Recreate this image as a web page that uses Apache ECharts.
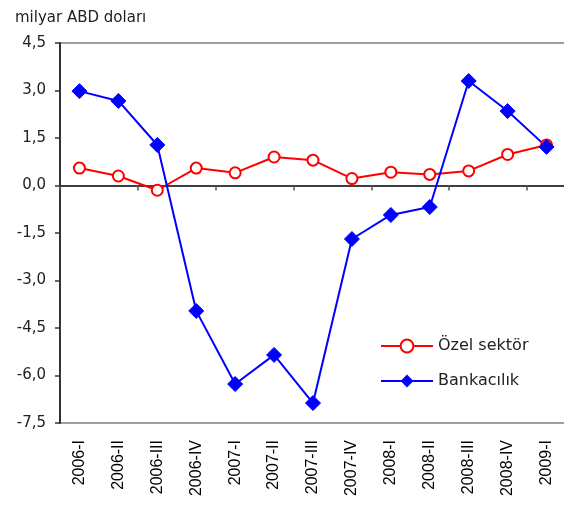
<!DOCTYPE html>
<html><head><meta charset="utf-8">
<script src="https://cdn.jsdelivr.net/npm/echarts@6/dist/echarts.min.js"></script>
<style>html,body{margin:0;padding:0;background:#fff;}#c{width:564px;height:505px;}</style>
</head><body><div id="c"></div>
<script>
var categories = ['2006-I','2006-II','2006-III','2006-IV','2007-I','2007-II','2007-III','2007-IV','2008-I','2008-II','2008-III','2008-IV','2009-I'];
var ozelSektor = [0.55, 0.3, -0.15, 0.55, 0.4, 0.9, 0.8, 0.22, 0.42, 0.35, 0.46, 0.98, 1.28];
var bankacilik = [2.98, 2.67, 1.28, -3.96, -6.27, -5.35, -6.87, -1.69, -0.93, -0.68, 3.3, 2.35, 1.22];
var seriesNames = ['Özel sektör', 'Bankacılık'];
var unitLabel = 'milyar ABD doları';

var chart = echarts.init(document.getElementById('c'), null, {renderer: 'canvas'});
var font = 'DejaVu Sans';
chart.setOption({
  animation: false,
  backgroundColor: '#fff',
  title: {text: unitLabel, left: 10, top: 6, textStyle: {fontFamily: font, fontSize: 15, fontWeight: 'normal', color: '#222'}},
  grid: {left: 60, top: 43, right: -2, bottom: 82, outerBoundsMode: 'none', containLabel: false,
    show: true, borderColor: '#a0a0a0', borderWidth: 2, backgroundColor: 'transparent'},
  legend: {
    orient: 'vertical', left: 375, top: 333, itemWidth: 52, itemHeight: 16, itemGap: 19,
    textStyle: {fontFamily: font, fontSize: 16, color: '#222'},
    data: seriesNames
  },
  xAxis: [{
    type: 'category', data: categories, position: 'bottom', boundaryGap: true,
    axisLine: {show: false, onZero: false}, axisTick: {show: false},
    axisLabel: {rotate: 90, margin: 17, fontFamily: 'Liberation Sans', fontSize: 16, color: '#000', interval: 0}
  }, {
    type: 'category', data: categories, position: 'top', boundaryGap: true,
    axisLine: {show: true, onZero: true, lineStyle: {color: '#000', width: 1.5}},
    axisTick: {show: true, inside: true, length: 5, lineStyle: {color: '#555', width: 1.5}},
    axisLabel: {show: false}, splitLine: {show: false}
  }],
  yAxis: {
    type: 'value', min: -7.5, max: 4.5, interval: 1.5,
    axisLine: {show: true, lineStyle: {color: '#333', width: 2}},
    axisTick: {show: true, length: 5, lineStyle: {color: '#333', width: 1.5}},
    splitLine: {show: false},
    axisLabel: {margin: 14, fontFamily: font, fontSize: 15, color: '#222',
      formatter: function (v) { return v.toFixed(1).replace('.', ','); }}
  },
  series: [{
    name: seriesNames[0], type: 'line', data: ozelSektor, xAxisIndex: 0,
    symbol: 'emptyCircle', symbolSize: 11,
    lineStyle: {color: '#ff0000', width: 2},
    itemStyle: {color: '#ff0000', borderColor: '#ff0000', borderWidth: 2}
  }, {
    name: seriesNames[1], type: 'line', data: bankacilik, xAxisIndex: 0,
    symbol: 'diamond', symbolSize: 15,
    lineStyle: {color: '#0000ff', width: 2},
    itemStyle: {color: '#0000ff', borderColor: '#0000ff'}
  }]
});
</script></body></html>
